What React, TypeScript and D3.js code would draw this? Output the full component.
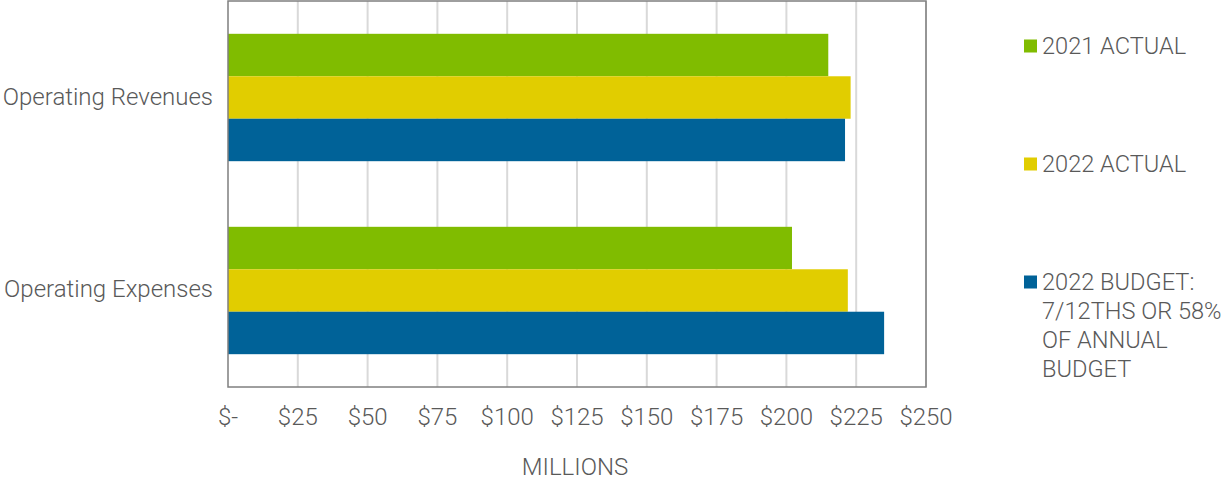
import React from "react";
import * as d3 from "d3";

const categories = ["Operating Revenues", "Operating Expenses"];
const seriesNames = ["2021 ACTUAL", "2022 ACTUAL", "2022 BUDGET"];
const actual2021 = [215, 202];
const actual2022 = [223, 222];
const budget2022 = [221, 235];
const ticks = [0, 25, 50, 75, 100, 125, 150, 175, 200, 225, 250];
const colors = ["#80BC00", "#E1CD00", "#006298"];
const legendLines = [["2021 ACTUAL"], ["2022 ACTUAL"], ["2022 BUDGET:", "7/12THS OR 58%", "OF ANNUAL", "BUDGET"]];

export default function App() {
  const W = 1223, H = 480;
  const left = 228, right = 926, top = 1, bottom = 387;
  const x = d3.scaleLinear().domain([0, 250]).range([left, right]);
  const y = d3.scaleBand().domain(categories).range([top, bottom]).paddingInner(0.34).paddingOuter(0.17);
  const inner = d3.scaleBand().domain(seriesNames).range([0, y.bandwidth()]);
  const series = [actual2021, actual2022, budget2022];
  const font = "Roboto, sans-serif";
  const txt = "#595959";
  const fs = 24;
  const fmt = (v: number) => (v === 0 ? "$-" : "$" + v);
  const legendY = [46, 164, 282];
  return (
    <svg width={W} height={H} style={{ position: "absolute", left: 0, top: 0 }}>
      <rect x={0} y={0} width={W} height={H} fill="#fff" />
      {ticks.slice(1).map((t) => (
        <line key={t} x1={x(t)} x2={x(t)} y1={top} y2={bottom} stroke="#d9d9d9" strokeWidth={2} />
      ))}
      {categories.map((c, ci) =>
        series.map((s, si) => (
          <rect
            key={c + si}
            x={x(0)}
            y={(y(c) as number) + (inner(seriesNames[si]) as number)}
            width={x(s[ci]) - x(0)}
            height={inner.bandwidth()}
            fill={colors[si]}
          />
        ))
      )}
      <rect x={left} y={top} width={right - left} height={bottom - top} fill="none" stroke="#7f7f7f" strokeWidth={1.5} />
      {categories.map((c, ci) => (
        <text key={c} x={213} y={(y(c) as number) + y.bandwidth() / 2 + (ci === 0 ? -1 : -2)} dy="0.35em" textAnchor="end"
          fontFamily={font} fontWeight={300} fontSize={fs} fill={txt}>
          {c}
        </text>
      ))}
      {ticks.map((t) => (
        <text key={t} x={x(t)} y={417} dy="0.35em" textAnchor="middle" fontFamily={font} fontWeight={300} fontSize={fs} fill={txt}>
          {fmt(t)}
        </text>
      ))}
      <text x={575} y={467} dy="0.35em" textAnchor="middle" fontFamily={font} fontWeight={300} fontSize={fs} fill={txt}>
        MILLIONS
      </text>
      {legendLines.map((lines, i) => (
        <g key={i}>
          <rect x={1024} y={legendY[i] - 6.5} width={13} height={13} fill={colors[i]} />
          {lines.map((l, li) => (
            <text key={li} x={1042} y={legendY[i] + li * 29} dy="0.35em" fontFamily={font} fontWeight={300} fontSize={23.6} fill={txt}>
              {l}
            </text>
          ))}
        </g>
      ))}
    </svg>
  );
}
